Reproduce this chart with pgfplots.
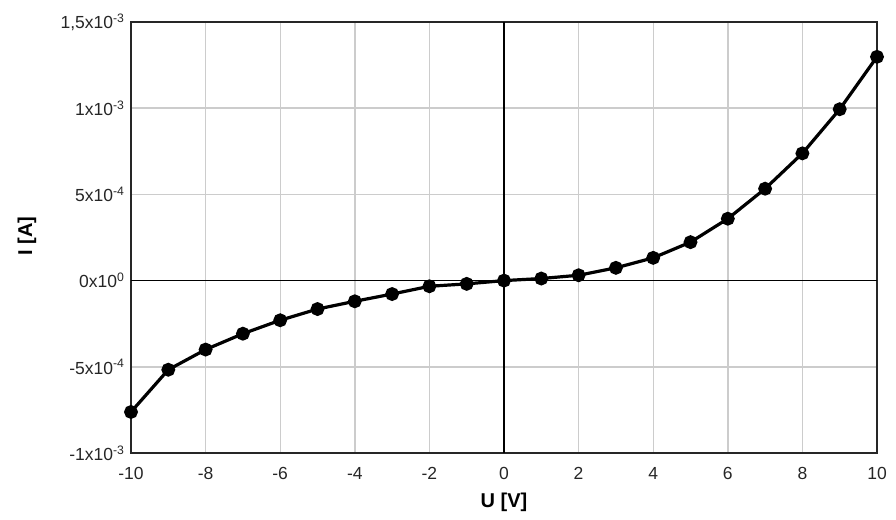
\documentclass[border=0pt]{standalone}
\usepackage{pgfplots}
\pgfplotsset{compat=1.18}
\usepackage{fontspec}
\setmainfont{Liberation Sans}
\begin{document}
\begin{tikzpicture}
\useasboundingbox (-131pt,-66pt) rectangle (765pt,453pt);
\begin{axis}[
  scale only axis,
  width=746pt, height=431pt,
  xmin=-10, xmax=10, ymin=-1e-3, ymax=1.5e-3,
  xtick={-10,-8,...,10},
  ytick={-1e-3,-5e-4,0,5e-4,1e-3,1.5e-3},
  yticklabels={-1x10\textsuperscript{-3},-5x10\textsuperscript{-4},0x10\textsuperscript{0},5x10\textsuperscript{-4},1x10\textsuperscript{-3},{1,5x10\textsuperscript{-3}}},
  scaled y ticks=false,
  /pgf/number format/assume math mode=true,
  xticklabel style={font=\fontsize{17.5}{20}\selectfont, text=black!85, yshift=-11pt},
  yticklabel style={font=\fontsize{17.5}{20}\selectfont, text=black!85, xshift=-3pt},
  major tick length=0pt,
  grid=major,
  grid style={draw=black!20, line width=1.4pt},
  axis line style={black!85, line width=1.5pt},
  xlabel={\textbf{U [V]}},
  ylabel={\textbf{I [A]}},
  label style={font=\fontsize{20}{24}\selectfont},
  xlabel style={at={(axis description cs:0.5,0)}, anchor=center, yshift=-49pt},
  ylabel style={at={(axis description cs:-0.1394,0.503)}, anchor=center},
  clip=false,
]
\addplot[black, line width=1.2pt, forget plot] coordinates {(0,-1e-3) (0,1.5e-3)};
\addplot[black, line width=1.2pt, forget plot] coordinates {(-10,0) (10,0)};
\addplot[black, line width=3.2pt, mark=*, mark size=5.3pt] coordinates {
(-10,-0.762e-3) (-9,-0.517e-3) (-8,-0.400e-3) (-7,-0.308e-3) (-6,-0.230e-3)
(-5,-0.165e-3) (-4,-0.120e-3) (-3,-0.078e-3) (-2,-0.033e-3) (-1,-0.019e-3)
(0,0) (1,0.012e-3) (2,0.031e-3) (3,0.074e-3) (4,0.132e-3) (5,0.223e-3)
(6,0.359e-3) (7,0.533e-3) (8,0.738e-3) (9,0.994e-3) (10,1.298e-3)};
\end{axis}
\end{tikzpicture}
\end{document}
